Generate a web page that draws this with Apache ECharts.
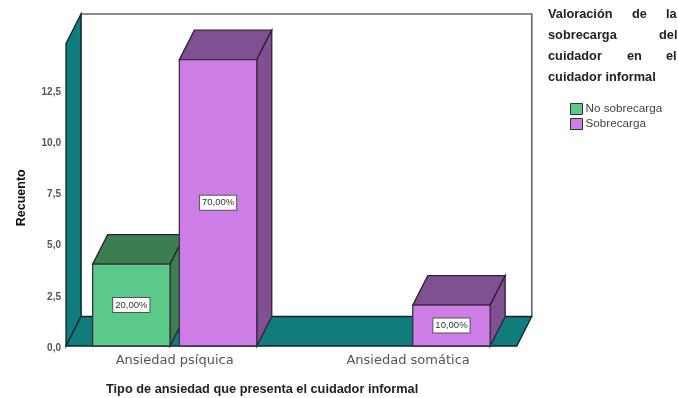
<!DOCTYPE html>
<html>
<head>
<meta charset="utf-8">
<script src="https://cdn.jsdelivr.net/npm/echarts@6/dist/echarts.min.js"></script>
<style>html,body{margin:0;padding:0;background:#fff}#c{width:678px;height:398px;filter:blur(0.45px)}</style>
</head>
<body>
<div id="c"></div>
<script>
const categories = ['Ansiedad psíquica', 'Ansiedad somática'];
const noSobrecarga = [4, null];
const sobrecarga = [14, 2];
const noSobrecargaLabels = ['20,00%', null];
const sobrecargaLabels = ['70,00%', '10,00%'];
const seriesNames = ['No sobrecarga', 'Sobrecarga'];
const yTicks = [0, 2.5, 5, 7.5, 10, 12.5];
const yAxisTop = 14.79;
const yTitle = 'Recuento';
const xTitle = 'Tipo de ansiedad que presenta el cuidador informal';
const legendTitle = [['Valoración', 'de', 'la'], ['sobrecarga', 'del'], ['cuidador', 'en', 'el'], ['cuidador informal']];

const DX = 15, DY = -29.5, EDGE = '#2b2233';
const chart = echarts.init(document.getElementById('c'), null, { renderer: 'canvas' });

function poly(points, fill, stroke, lw) {
  return { type: 'polygon', shape: { points }, style: { fill, stroke: stroke || EDGE, lineWidth: lw || 1.3 } };
}
function bar3d(values, labels, side, front, shade) {
  return function (params, api) {
    const idx = api.value(0), v = api.value(1);
    if (v == null || isNaN(v)) return;
    const band = api.size([1, 0])[0];
    const w = band * 0.3316, gap = band * 0.04;
    const cx = api.coord([idx, 0])[0] + side * (w + gap) / 2;
    const y0 = api.coord([idx, 0])[1], y1 = api.coord([idx, v])[1];
    const l = cx - w / 2, r = cx + w / 2;
    const text = labels[idx];
    return {
      type: 'group',
      children: [
        poly([[l, y1], [r, y1], [r + DX, y1 + DY], [l + DX, y1 + DY]], shade),
        poly([[r, y0], [r, y1], [r + DX, y1 + DY], [r + DX, y0 + DY]], shade),
        poly([[l, y0], [r, y0], [r, y1], [l, y1]], front, '#3a3040'),
        { type: 'text', x: cx, y: (y0 + y1) / 2, z2: 10, style: {
            text, align: 'center', verticalAlign: 'middle', fontFamily: 'Liberation Sans', fontSize: 9.5, fill: '#333',
            backgroundColor: '#fff', borderColor: '#555', borderWidth: 1, padding: [2, 2, 2, 2] } }
      ]
    };
  };
}
function frame(params, api) {
  const c = params.coordSys;
  const xL = c.x + 8, xR = c.x + c.width - 8, yB = c.y + c.height, yT = c.y;
  const teal = '#107c7c';
  return {
    type: 'group',
    children: [
      { type: 'polyline', shape: { points: [[xL + DX, yB + DY], [xL + DX, yT + DY], [xR + DX, yT + DY], [xR + DX, yB + DY]] },
        style: { fill: 'none', stroke: '#666', lineWidth: 1.6 } },
      poly([[xL, yT], [xL + DX, yT + DY], [xL + DX, yB + DY], [xL, yB]], teal, '#123'),
      poly([[xL, yB], [xL + DX, yB + DY], [xR + DX, yB + DY], [xR, yB]], teal, '#123')
    ]
  };
}
const graphics = [];
const lineY = [14.5, 36, 57, 78];
const wordX = [[548, 632, 666], [548, 659], [548, 627, 666], [548]];
legendTitle.forEach((words, i) => words.forEach((w, j) => graphics.push({
  type: 'text', left: wordX[i][j], top: lineY[i] - 7,
  style: { text: w, font: 'bold 12.75px "Liberation Sans"', fill: '#222' }
})));
graphics.push({ type: 'text', left: 106, top: 383, style: { text: xTitle, font: 'bold 12.75px "Liberation Sans"', fill: '#222' } });

chart.setOption({
  animation: false,
  backgroundColor: '#fff',
  grid: { left: 58, width: 466.8, top: 43.5, height: 302.5, containLabel: false },
  xAxis: {
    type: 'category', data: categories,
    axisLine: { show: false }, axisTick: { show: false }, splitLine: { show: false },
    axisLabel: { color: '#555', fontFamily: 'DejaVu Sans', fontSize: 13, margin: 8 }
  },
  yAxis: {
    type: 'value', min: 0, max: yAxisTop, interval: 2.5, offset: -8,
    name: yTitle, nameLocation: 'middle', nameGap: 38,
    nameTextStyle: { color: '#111', fontFamily: 'Liberation Sans', fontSize: 12.5, fontWeight: 'bold', padding: [0, 6, 0, 0] },
    axisLine: { show: false }, axisTick: { show: false }, splitLine: { show: false },
    axisLabel: {
      customValues: yTicks, margin: 5, color: '#555', fontFamily: 'Liberation Sans', fontSize: 10, fontWeight: 'bold',
      verticalAlign: 'top', lineHeight: 4,
      formatter: v => v.toFixed(1).replace('.', ',')
    }
  },
  legend: {
    orient: 'vertical', left: 565, top: 98, itemWidth: 12, itemHeight: 11, itemGap: 3,
    data: seriesNames.map(name => ({ name, icon: 'rect' })),
    itemStyle: { borderColor: '#333', borderWidth: 1 },
    textStyle: { color: '#444', fontFamily: 'Liberation Sans', fontSize: 11.7, padding: [0, 0, 0, -2] }
  },
  graphic: graphics,
  series: [
    { type: 'custom', name: 'frame', silent: true, z: 1, clip: false, renderItem: frame, data: [[0, 0]], encode: { x: 0, y: 1 } },
    { type: 'custom', name: seriesNames[0], z: 2, clip: false, itemStyle: { color: '#5bc987' },
      renderItem: bar3d(noSobrecarga, noSobrecargaLabels, -1, '#5bc987', '#3b7e50'),
      data: noSobrecarga.map((v, i) => [i, v]), encode: { x: 0, y: 1 } },
    { type: 'custom', name: seriesNames[1], z: 3, clip: false, itemStyle: { color: '#cc7de6' },
      renderItem: bar3d(sobrecarga, sobrecargaLabels, 1, '#cc7de6', '#805092'),
      data: sobrecarga.map((v, i) => [i, v]), encode: { x: 0, y: 1 } }
  ]
});
</script>
</body>
</html>
